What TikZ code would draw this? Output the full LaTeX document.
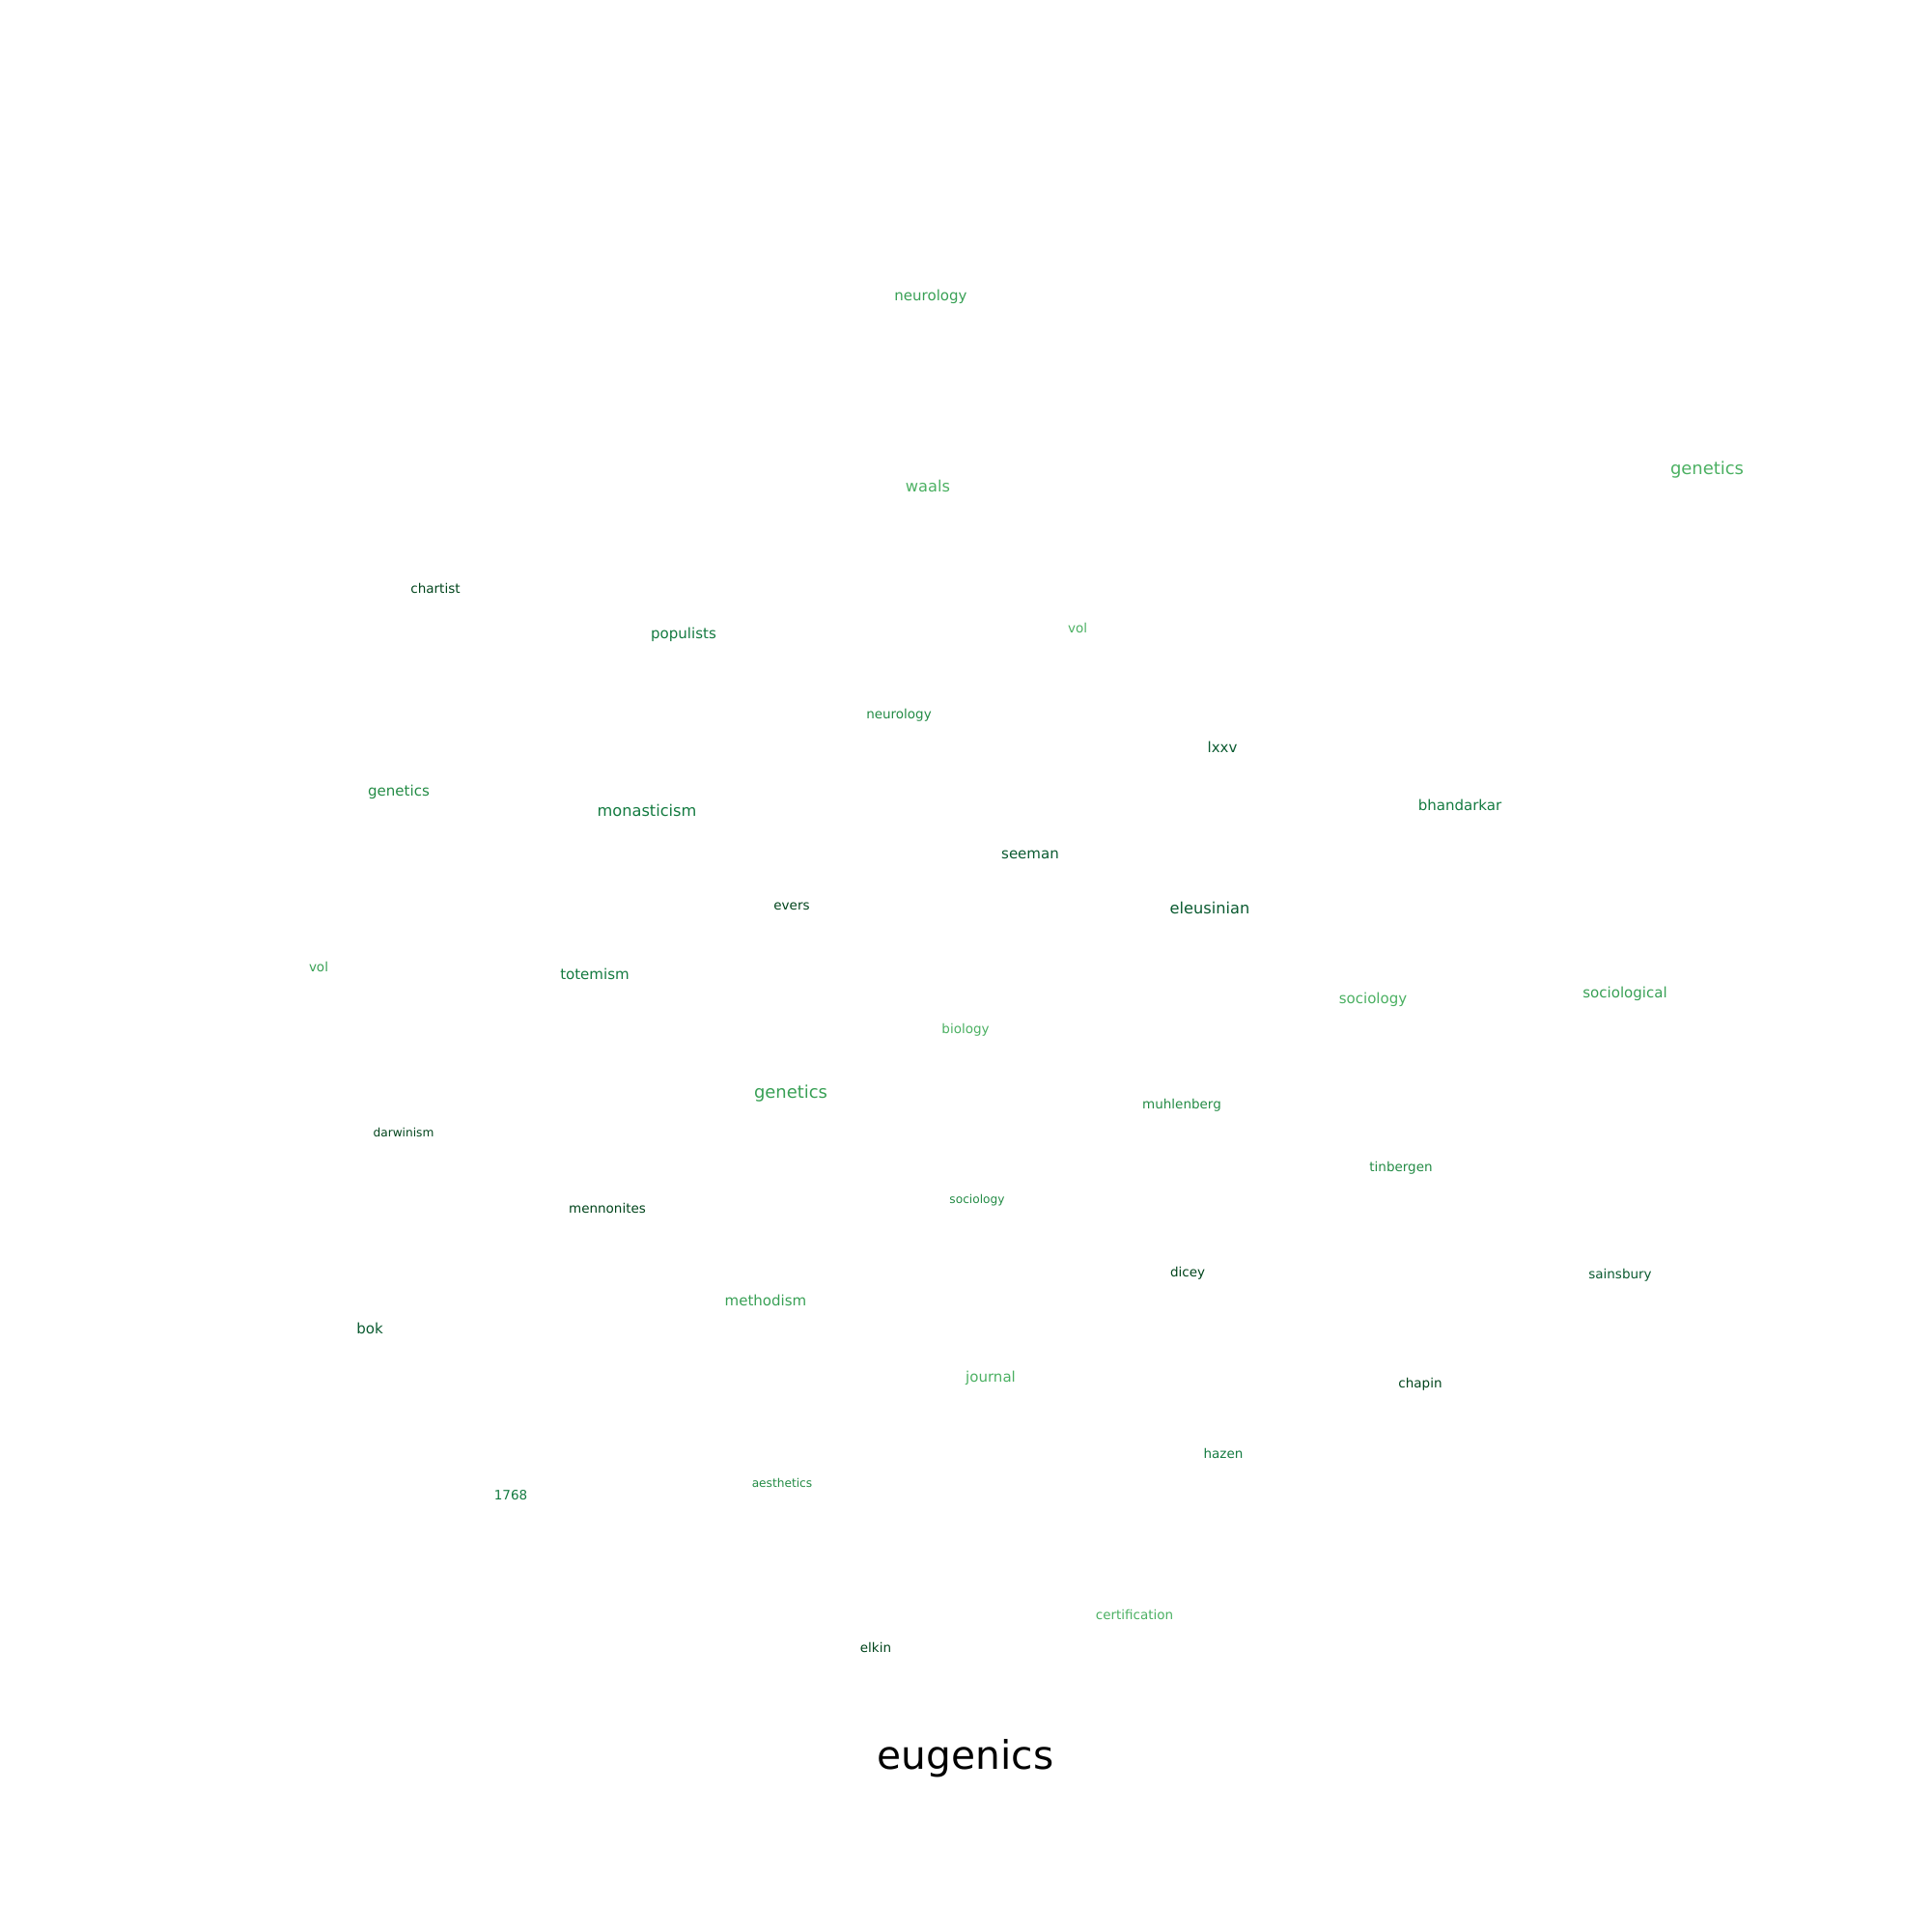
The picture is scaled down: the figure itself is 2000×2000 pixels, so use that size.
\documentclass[tikz,border=0pt]{standalone}
\usepackage{fontspec}
\setmainfont{DejaVu Sans}
\definecolor{gA}{HTML}{00441B}
\definecolor{gB}{HTML}{0A5A30}
\definecolor{gC}{HTML}{137A40}
\definecolor{gD}{HTML}{238B45}
\definecolor{gE}{HTML}{38A055}
\definecolor{gF}{HTML}{4BB062}
\tikzset{
  wxs/.style={inner sep=0pt, anchor=mid, font=\fontsize{8.8}{10}\selectfont},
  ws/.style={inner sep=0pt, anchor=mid, font=\fontsize{9.75}{11}\selectfont},
  wm/.style={inner sep=0pt, anchor=mid, font=\fontsize{10.85}{12}\selectfont},
  wl/.style={inner sep=0pt, anchor=mid, font=\fontsize{11.7}{13}\selectfont},
  wxl/.style={inner sep=0pt, anchor=mid, font=\fontsize{12.95}{14}\selectfont},
  wtitle/.style={inner sep=0pt, anchor=mid, font=\fontsize{29.4}{32}\selectfont}
}
\begin{document}
\begin{tikzpicture}[x=0.01in, y=-0.01in]
    \useasboundingbox (0,0) rectangle (2000,2000);
    \node (neuroA) at (964,308) [wm, text=gE] {neurology};
    \node (waals) at (961,506) [wl, text=gF] {waals};
    \node (genR) at (1768,488) [wxl, text=gF] {genetics};
    \node (chartist) at (451,611) [ws, text=gA] {chartist};
    \node (populists) at (708,658) [wm, text=gC] {populists};
    \node (volA) at (1116,652) [ws, text=gF] {vol};
    \node (neuroB) at (931,741) [ws, text=gD] {neurology};
    \node (lxxv) at (1266,776) [wm, text=gB] {lxxv};
    \node (genL) at (413,821) [wm, text=gD] {genetics};
    \node (monast) at (670,842) [wl, text=gC] {monasticism};
    \node (bhand) at (1512,836) [wm, text=gC] {bhandarkar};
    \node (seeman) at (1067,886) [wm, text=gB] {seeman};
    \node (evers) at (820,939) [ws, text=gA] {evers};
    \node (eleus) at (1253,943) [wl, text=gB] {eleusinian};
    \node (volB) at (330,1003) [ws, text=gE] {vol};
    \node (totem) at (616,1011) [wm, text=gC] {totemism};
    \node (socioA) at (1422,1036) [wm, text=gF] {sociology};
    \node (sociol) at (1683,1030) [wm, text=gE] {sociological};
    \node (biology) at (1000,1067) [ws, text=gF] {biology};
    \node (genC) at (819,1134) [wxl, text=gE] {genetics};
    \node (darwin) at (418,1174) [wxs, text=gA] {darwinism};
    \node (muhlen) at (1224,1145) [ws, text=gD] {muhlenberg};
    \node (tinber) at (1451,1210) [ws, text=gD] {tinbergen};
    \node (socioB) at (1012,1243) [wxs, text=gD] {sociology};
    \node (mennon) at (629,1253) [ws, text=gA] {mennonites};
    \node (dicey) at (1230,1319) [ws, text=gA] {dicey};
    \node (sains) at (1678,1321) [ws, text=gB] {sainsbury};
    \node (method) at (793,1349) [wm, text=gE] {methodism};
    \node (bok) at (383,1378) [wm, text=gB] {bok};
    \node (journal) at (1026,1428) [wm, text=gF] {journal};
    \node (chapin) at (1471,1434) [ws, text=gA] {chapin};
    \node (hazen) at (1267,1507) [ws, text=gC] {hazen};
    \node (aesth) at (810,1537) [wxs, text=gD] {aesthetics};
    \node (y1768) at (529,1550) [ws, text=gC] {1768};
    \node (certif) at (1175,1674) [ws, text=gF] {certification};
    \node (elkin) at (907,1708) [ws, text=gA] {elkin};
    \node (eugenics) at (1000,1829) [wtitle, text=black] {eugenics};
\end{tikzpicture}
\end{document}
